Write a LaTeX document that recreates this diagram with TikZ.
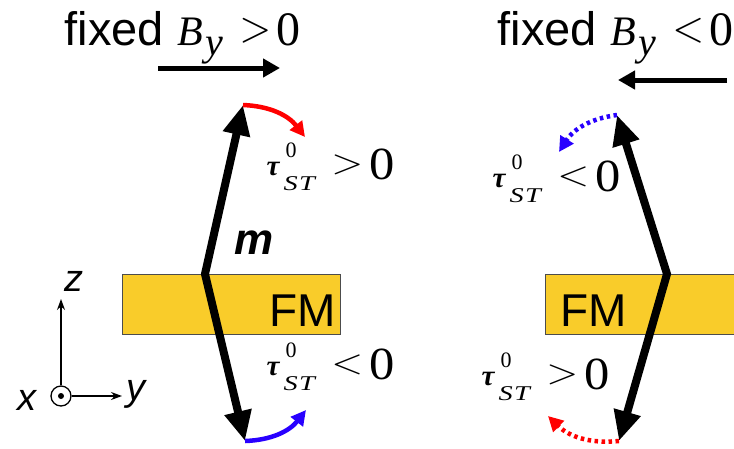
\documentclass[tikz,border=0pt]{standalone}
\usepackage{fontspec}
\usepackage{graphicx}
\newfontfamily\sansf{Liberation Sans}
\newfontfamily\serf{Liberation Serif}
\usetikzlibrary{arrows.meta}
\definecolor{fmgold}{RGB}{249,204,42}
\definecolor{tqred}{RGB}{255,0,0}
\definecolor{tqblue}{RGB}{40,0,255}
\newcommand\fsz[1]{\fontsize{#1}{#1}\selectfont}
\newcommand\putat[3][0]{\rlap{\kern#2pt\raisebox{#1pt}{#3}}}
\newcommand\titlelabel[1]{%
 \putat{0}{\sansf\fsz{47}fixed}%
 \putat{113}{\serf\fsz{42}\itshape B}%
 \putat[-10]{141}{\serf\fsz{40}\itshape y}%
 \putat[3.5]{174.6}{\scalebox{4.1}[4.3]{$#1$}}%
 \putat{212}{\serf\fsz{48}0}}
\newcommand\taulabel[1]{%
 \putat{0}{\serf\fsz{29}\bfseries\itshape τ}%
 \putat[18]{19}{\serf\fsz{22}0}%
 \putat[-15]{17}{\scalebox{1.35}[1]{\serf\fsz{21}\itshape S\kern1pt T}}%
 \putat[1.4]{64.6}{\scalebox{4.1}[3.45]{$#1$}}%
 \putat[-4]{103}{\serf\fsz{46}\scalebox{1.1}[1]{0}}}
\tikzset{
  txt/.style={anchor=base west, inner sep=0pt},
  fmbox/.style={fill=fmgold, draw=black!70, line width=0.8pt},
  fmtext/.style={inner sep=0pt, font=\sansf\fsz{46}},
  marr/.style={line width=8pt, line join=miter, {Triangle[length=30pt,width=26pt]}-{Triangle[length=30pt,width=26pt]}},
  field/.style={line width=5pt, -{Triangle[length=17pt,width=18pt]}},
  tq/.style={line width=4.5pt, -{Triangle[length=15pt,width=15pt]}},
  tqdot/.style={tq, dash pattern=on 3.5pt off 3.5pt},
  axis/.style={line width=1.2pt, -{Stealth[length=11pt,width=8pt]}},
  axlab/.style={inner sep=0pt, font=\sansf\fsz{38}\itshape},
}
\begin{document}
\begin{tikzpicture}[x=1pt,y=1pt]
\useasboundingbox (0,-448) rectangle (734,0);
% FM layers
\draw[fmbox] (122,-274) rectangle (340,-334);
\draw[fmbox] (545,-274) rectangle (745,-334);
\node[fmtext] (fm1) at (303,-310.5) {FM};
\node[fmtext] (fm2) at (594,-310.5) {FM};
% titles
\node[txt] (title1) at (64,-45) {\titlelabel{>}};
\node[txt] (title2) at (497,-45) {\titlelabel{<}};
% field arrows
\coordinate (f1s) at (158,-68);
\coordinate (f1e) at (280,-68);
\coordinate (f2s) at (727,-80);
\coordinate (f2e) at (618,-80);
\draw[field] (f1s) -- (f1e);
\draw[field] (f2s) -- (f2e);
% magnetization
\coordinate (k1) at (205,-274);
\coordinate (t1) at (243,-105);
\coordinate (b1) at (245,-441);
\coordinate (k2) at (667,-274);
\coordinate (t2) at (617,-115);
\coordinate (b2) at (619,-441);
\draw[marr] (t1) -- (k1) -- (b1);
\draw[marr] (t2) -- (k2) -- (b2);
\node[inner sep=0pt, font=\sansf\fsz{44}\bfseries\itshape] (mlab) at (254,-243) {m};
% torque arcs
\coordinate (e1) at (305,-137);
\coordinate (e2) at (306,-410);
\coordinate (e3) at (559,-152);
\coordinate (e4) at (548,-416);
\draw[tq, tqred] (t1) to[bend left=25] (e1);
\draw[tq, tqblue] (b1) to[bend right=25] (e2);
\draw[tqdot, tqblue] (t2) to[bend right=25] (e3);
\draw[tqdot, tqred] (b2) to[bend left=25] (e4);
% torque labels
\node[txt] (tau1) at (266,-175) {\taulabel{>}};
\node[txt] (tau2) at (266,-375) {\taulabel{<}};
\node[txt] (tau3) at (492,-187) {\taulabel{<}};
\node[txt] (tau4) at (481,-385) {\taulabel{>}};
% axes
\node[circle, draw, line width=1.3pt, minimum size=20pt, inner sep=0pt] (orig) at (61,-396) {};
\fill (orig.center) circle (3pt);
\coordinate (ztip) at (61,-299);
\coordinate (ytip) at (122,-396);
\draw[axis] (orig.north) -- (ztip);
\draw[axis] (orig.east) -- (ytip);
\node[axlab] (zlab) at (74,-281) {z};
\node[axlab] (xlab) at (27,-400) {x};
\node[axlab] (ylab) at (136,-394) {y};
\end{tikzpicture}
\end{document}
